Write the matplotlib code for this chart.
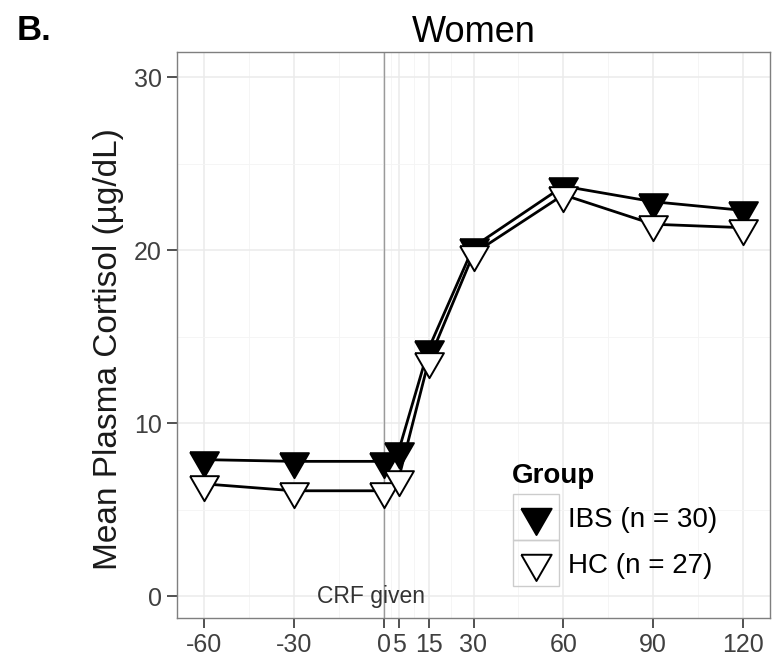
import matplotlib
matplotlib.use("Agg")
import matplotlib.pyplot as plt
from matplotlib.patches import Rectangle
import numpy as np

plt.rcParams['font.family'] = ['Liberation Sans', 'DejaVu Sans']

# ---- data ----
time_min = [-60, -30, 0, 5, 15, 30, 60, 90, 120]
x_tick_labels = ['-60', '-30', '0', '5', '15', '30', '60', '90', '120']
ibs_cortisol = [7.9, 7.8, 7.8, 8.4, 14.3, 20.2, 23.7, 22.8, 22.3]
hc_cortisol = [6.5, 6.1, 6.1, 6.8, 13.6, 19.8, 23.2, 21.5, 21.3]
group_labels = ['IBS (n = 30)', 'HC (n = 27)']
y_ticks = [0, 10, 20, 30]
x_minor = [-45, -15, 2.5, 10, 22.5, 45, 75, 105]
y_minor = [5, 15, 25]

W, H = 776, 665
fig = plt.figure(figsize=(W / 100, H / 100), dpi=100)
L, R, T, B = 177, 770, 52, 618
ax = fig.add_axes([L / W, 1 - B / H, (R - L) / W, (B - T) / H])

# triangle (equilateral, pointing down, centred on centroid)
tri = [(-1, 0.577), (1, 0.577), (0, -1.155), (-1, 0.577)]

ax.set_xlim(-69, 129)
ax.set_ylim(-1.25, 31.45)
ax.set_xticks(time_min)
ax.set_xticklabels(x_tick_labels)
ax.set_yticks(y_ticks)
ax.set_xticks(x_minor, minor=True)
ax.set_yticks(y_minor, minor=True)
ax.grid(which='major', color='#EBEBEB', lw=1.1, zorder=0)
ax.grid(which='minor', color='#F4F4F4', lw=0.6, zorder=0)
ax.set_axisbelow(True)
ax.tick_params(which='minor', length=0)
ax.tick_params(which='major', length=7, width=1.2, color='#333333',
               labelsize=18, labelcolor='#404040', pad=4)
for s in ax.spines.values():
    s.set_color('#7F7F7F')
    s.set_linewidth(1)

ax.axvline(0, color='#9A9A9A', lw=1, zorder=1)

ax.plot(time_min, ibs_cortisol, color='black', lw=2.0, zorder=2)
ax.plot(time_min, hc_cortisol, color='black', lw=2.0, zorder=2)
ax.plot(time_min, ibs_cortisol, ls='none', marker=tri, ms=24, mfc='black',
        mec='black', mew=1.4, zorder=3, label=group_labels[0])
ax.plot(time_min, hc_cortisol, ls='none', marker=tri, ms=24, mfc='white',
        mec='black', mew=1.4, zorder=4, label=group_labels[1])

ax.text(-4.3, 0, 'CRF given', fontsize=16.5, color='#333333', ha='center', va='center')

ax.set_title('Women', fontsize=26, pad=7)
fig.text(109 / W, 1 - 349 / H, 'Mean Plasma Cortisol (\u00b5g/dL)', fontsize=24,
         rotation=90, ha='center', va='center', color='#1A1A1A')

fig.text(17 / W, 1 - 31 / H, 'B.', fontsize=25, fontweight='bold', va='center')

# legend title
fig.text(512 / W, 1 - 483 / H, 'Group', fontsize=20, fontweight='bold', va='baseline')

anchor_x = (511 - L) / (R - L)
anchor_y = 1 - (495 - T) / (B - T)
leg_kw = dict(loc='upper left', frameon=False, fontsize=20,
              handlelength=1.65, handletextpad=0.32, labelspacing=0.72,
              borderaxespad=0, borderpad=0, markerscale=1.05)
leg = ax.legend(bbox_to_anchor=(anchor_x, anchor_y), **leg_kw)

# align first legend key centre with target position (536, 517) px from top-left
fig.canvas.draw()
rend = fig.canvas.get_renderer()
bb = leg.legend_handles[0].get_window_extent(rend)
cx, cy = (bb.x0 + bb.x1) / 2, (bb.y0 + bb.y1) / 2
dx_px = 536 - cx
dy_px = (H - 517) - cy
anchor_x += dx_px / (R - L)
anchor_y += dy_px / (B - T)
leg.remove()
leg = ax.legend(bbox_to_anchor=(anchor_x, anchor_y), **leg_kw)

fig.canvas.draw()
for h in leg.legend_handles:
    bb = h.get_window_extent(rend)
    cx, cy = (bb.x0 + bb.x1) / 2, (bb.y0 + bb.y1) / 2
    size = 46
    rect = Rectangle(((cx - size / 2) / W, (cy - size / 2) / H), size / W, size / H,
                     transform=fig.transFigure, facecolor='none', edgecolor='#CCCCCC',
                     lw=1, zorder=5)
    fig.patches.append(rect)

fig.savefig('out.png', dpi=100, facecolor='white')
